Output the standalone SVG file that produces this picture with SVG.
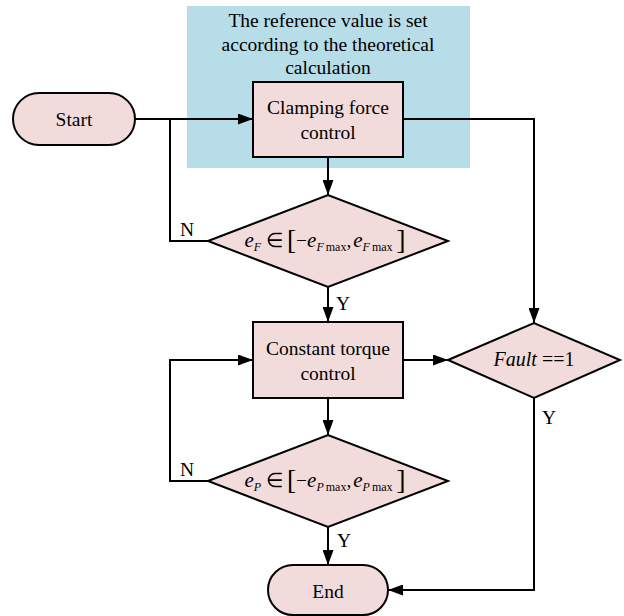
<svg xmlns="http://www.w3.org/2000/svg" width="624" height="616" viewBox="0 0 624 616" font-family="'Liberation Serif', 'Times New Roman', Times, serif">
<style>
.n{fill:#f2dcdb;stroke:#000;stroke-width:2}
.c{fill:none;stroke:#000;stroke-width:2}
text, tspan{font-family:'Liberation Serif','Times New Roman',Times,serif;font-size:19.5px;fill:#000}
.m{text-anchor:middle;dominant-baseline:central}
.i{font-style:italic}
.s{font-size:12px}
.e{font-size:21px}
.b{font-size:27px}
</style>
<defs>
<marker id="a" markerWidth="15" markerHeight="11" refX="15" refY="5.5" orient="auto" markerUnits="userSpaceOnUse">
<path d="M0,0 L15,5.5 L0,11 Z" fill="#000"/>
</marker>
</defs>
<rect x="187" y="6" width="283" height="162" fill="#b7dde8"/>
<text x="328" y="20" class="m">The reference value is set</text>
<text x="328" y="44" class="m">according to the theoretical</text>
<text x="328" y="67" class="m">calculation</text>
<g id="connectors">
<path class="c" d="M135,119 H253" marker-end="url(#a)"/>
<path class="c" d="M208,241 H170 V119"/>
<path class="c" d="M403,119 H534 V323" marker-end="url(#a)"/>
<path class="c" d="M328,157 V195" marker-end="url(#a)"/>
<path class="c" d="M328,287 V322" marker-end="url(#a)"/>
<path class="c" d="M403,360 H448" marker-end="url(#a)"/>
<path class="c" d="M328,398 V435" marker-end="url(#a)"/>
<path class="c" d="M208,481 H170 V360 H253" marker-end="url(#a)"/>
<path class="c" d="M328,527 V565" marker-end="url(#a)"/>
<path class="c" d="M534,398 V590 H388" marker-end="url(#a)"/>
<text x="187" y="229" class="m">N</text>
<text x="343" y="303" class="m">Y</text>
<text x="187" y="469" class="m">N</text>
<text x="344" y="540" class="m">Y</text>
<text x="549" y="417" class="m">Y</text>
</g>
<g id="start">
<rect class="n" x="13" y="93" width="122" height="52" rx="26"/>
<text x="74" y="119" class="m">Start</text>
</g>
<g id="clamping">
<rect class="n" x="253" y="82" width="150" height="75"/>
<text x="328" y="107" class="m">Clamping force</text>
<text x="328" y="132" class="m">control</text>
</g>
<g id="check1">
<polygon class="n" points="208,241 328,195 448,241 328,287"/>
<text x="325" y="247" text-anchor="middle"><tspan class="i e">e</tspan><tspan class="i s" dy="4">F</tspan><tspan dy="-4" dx="5">∈</tspan><tspan class="b" dy="2" dx="4">[</tspan><tspan dy="-2">−</tspan><tspan class="i e">e</tspan><tspan class="i s" dy="4">F</tspan><tspan class="s" dx="2">max</tspan><tspan dy="-4">,</tspan><tspan class="i e" dx="2">e</tspan><tspan class="i s" dy="4">F</tspan><tspan class="s" dx="2">max</tspan><tspan class="b" dy="-2" dx="4">]</tspan></text>
</g>
<g id="torque">
<rect class="n" x="253" y="322" width="150" height="76"/>
<text x="328" y="348" class="m">Constant torque</text>
<text x="328" y="373" class="m">control</text>
</g>
<g id="fault">
<polygon class="n" points="448,360 534,323 620,360 534,398"/>
<text x="534" y="366" text-anchor="middle"><tspan class="i" style="font-size:20px">Fault</tspan><tspan style="font-size:20px"> ==1</tspan></text>
</g>
<g id="check2">
<polygon class="n" points="208,481 328,435 448,481 328,527"/>
<text x="325" y="487" text-anchor="middle"><tspan class="i e">e</tspan><tspan class="i s" dy="4">P</tspan><tspan dy="-4" dx="5">∈</tspan><tspan class="b" dy="2" dx="4">[</tspan><tspan dy="-2">−</tspan><tspan class="i e">e</tspan><tspan class="i s" dy="4">P</tspan><tspan class="s" dx="2">max</tspan><tspan dy="-4">,</tspan><tspan class="i e" dx="2">e</tspan><tspan class="i s" dy="4">P</tspan><tspan class="s" dx="2">max</tspan><tspan class="b" dy="-2" dx="4">]</tspan></text>
</g>
<g id="end">
<rect class="n" x="268" y="565" width="120" height="50" rx="25"/>
<text x="328" y="591" class="m">End</text>
</g>
</svg>
